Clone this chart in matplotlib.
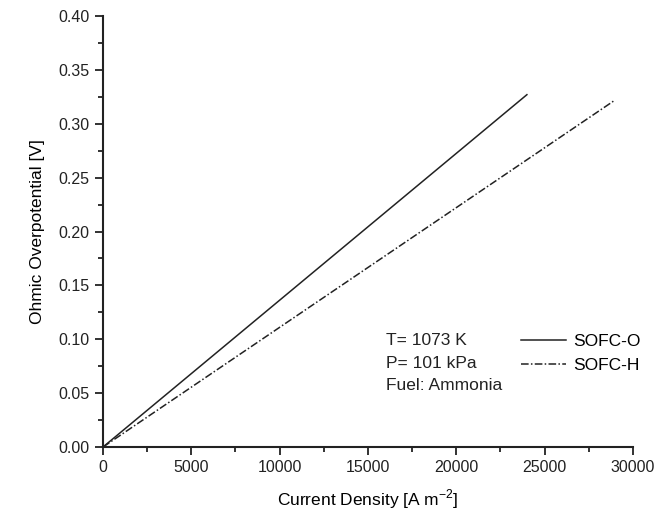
import matplotlib
matplotlib.use("Agg")
import matplotlib.pyplot as plt
from matplotlib.ticker import MultipleLocator

plt.rcParams['font.family'] = ['Liberation Sans', 'DejaVu Sans']

current_o = [0, 24000]
ohmic_o = [0.0, 0.327]
current_h = [0, 28900]
ohmic_h = [0.0, 0.321]

fig = plt.figure(figsize=(6.69, 5.17), dpi=100)
ax = fig.add_axes([0.154, 0.1354, 0.792, 0.8336])

ax.plot(current_o, ohmic_o, color='#222222', lw=1.1, label='SOFC-O')
ax.plot(current_h, ohmic_h, color='#222222', lw=1.1, dashes=[5, 1.5, 1, 1.5], label='SOFC-H')

ax.set_xlim(0, 30000)
ax.set_ylim(0, 0.40)
ax.xaxis.set_major_locator(MultipleLocator(5000))
ax.xaxis.set_minor_locator(MultipleLocator(2500))
ax.yaxis.set_major_locator(MultipleLocator(0.05))
ax.yaxis.set_minor_locator(MultipleLocator(0.025))
ax.yaxis.set_major_formatter(matplotlib.ticker.FormatStrFormatter('%.2f'))
for s in ['top', 'right']:
    ax.spines[s].set_visible(False)
for s in ['left', 'bottom']:
    ax.spines[s].set_linewidth(1.5)
    ax.spines[s].set_color('#222222')
ax.tick_params(which='major', direction='out', length=6, width=1.3, labelsize=11.5, colors='#222222')
ax.tick_params(which='minor', direction='out', length=3.5, width=1.3, colors='#222222')

ax.set_xlabel('Current Density [A m$^{\\mathregular{-2}}$]', fontsize=12.5, labelpad=9)
ax.set_ylabel('Ohmic Overpotential [V]', fontsize=12.5, labelpad=10)

ax.text(0.535, 0.265, 'T= 1073 K\nP= 101 kPa\nFuel: Ammonia', transform=ax.transAxes,
        fontsize=12.5, va='top', ha='left', linespacing=1.65, color='#222222')

leg = ax.legend(loc='upper left', bbox_to_anchor=(0.776, 0.279), frameon=False, fontsize=12.5,
                handlelength=2.6, handletextpad=0.4, labelspacing=0.5, borderaxespad=0)

fig.savefig('out.png', dpi=100)
